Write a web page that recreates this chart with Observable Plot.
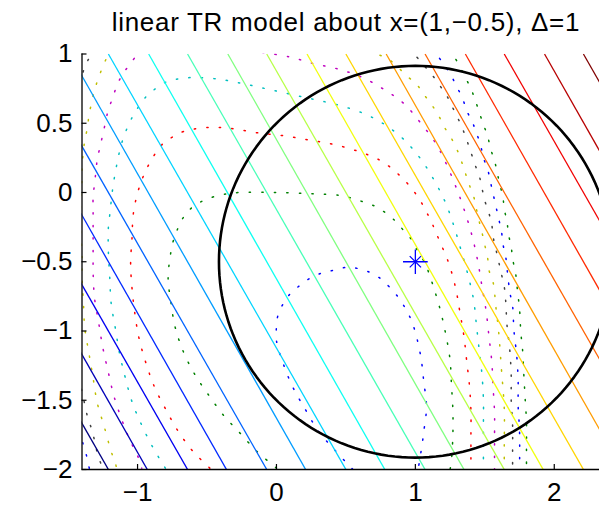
<!DOCTYPE html>
<html><head><meta charset="utf-8">
<script src="https://cdn.jsdelivr.net/npm/d3@7"></script>
<script src="https://cdn.jsdelivr.net/npm/@observablehq/plot@0.6"></script>
<style>
body{margin:0;background:#fff;}
#chart{width:599px;height:507px;overflow:hidden;}
#chart svg{overflow:hidden;}
</style>
</head><body><div id="chart"></div>
<script>
const titleText = "linear TR model about x=(1,\u22120.5), \u0394=1";
const xTicks = [-1, 0, 1, 2];
const yTicks = [-2, -1.5, -1, -0.5, 0, 0.5, 1];
const xLim = [-1.4, 2.4];
const yLim = [-2, 1];

// linear model contour lines: level index, x where the line meets y=1 and y=-2
const lineLevel   = [-6, -5, -4, -3, -2, -1, 0, 1, 2, 3, 4, 5, 6, 7, 8, 9, 10, 11, 12];
const lineTopX    = [-2.92, -2.63, -2.35, -2.06, -1.78, -1.49, -1.21, -0.92, -0.64, -0.35, -0.07, 0.22, 0.50, 0.79, 1.07, 1.36, 1.64, 1.93, 2.21];
const lineBottomX = [-1.21, -0.93, -0.64, -0.36, -0.07, 0.21, 0.50, 0.78, 1.07, 1.35, 1.64, 1.92, 2.21, 2.49, 2.78, 3.06, 3.35, 3.63, 3.92];

// trust region
const center = [1, -0.5];
const radius = 1.414;

// dotted contours of the true function
const curveBlue1 = [[0.55,-2.00],[0.42,-1.86],[0.30,-1.72],[0.21,-1.57],[0.12,-1.41],[0.05,-1.24],[0.00,-1.07],[0.00,-0.97],[0.01,-0.89],[0.05,-0.80],[0.10,-0.73],[0.17,-0.67],[0.24,-0.62],[0.33,-0.58],[0.42,-0.56],[0.51,-0.54],[0.59,-0.55],[0.68,-0.58],[0.76,-0.63],[0.82,-0.69],[0.88,-0.76],[0.93,-0.84],[0.97,-0.92],[1.00,-1.01],[1.04,-1.19],[1.06,-1.36],[1.08,-1.55],[1.06,-1.73],[1.05,-1.81],[1.02,-2.00]];
const curveGreen1 = [[0.00,-1.99],[-0.14,-1.87],[-0.26,-1.74],[-0.38,-1.61],[-0.49,-1.46],[-0.59,-1.31],[-0.67,-1.15],[-0.73,-0.97],[-0.76,-0.79],[-0.78,-0.62],[-0.76,-0.43],[-0.74,-0.34],[-0.71,-0.26],[-0.67,-0.18],[-0.61,-0.11],[-0.53,-0.06],[-0.45,-0.03],[-0.36,-0.01],[-0.27,0.00],[0.00,0.00],[0.27,-0.01],[0.45,-0.02],[0.54,-0.04],[0.63,-0.07],[0.71,-0.10],[0.79,-0.15],[0.86,-0.21],[0.92,-0.28],[0.98,-0.35],[1.02,-0.43],[1.07,-0.51],[1.10,-0.59],[1.13,-0.68],[1.18,-0.85],[1.22,-1.03],[1.25,-1.21],[1.26,-1.39],[1.27,-1.57],[1.27,-1.75],[1.26,-1.93],[1.25,-2.00]];
const curveRed1 = [[-0.48,-1.99],[-0.60,-1.87],[-0.71,-1.72],[-0.80,-1.56],[-0.88,-1.40],[-0.94,-1.23],[-0.99,-1.05],[-1.02,-0.87],[-1.04,-0.69],[-1.05,-0.51],[-1.04,-0.33],[-1.03,-0.15],[-0.99,0.03],[-0.92,0.20],[-0.82,0.35],[-0.75,0.40],[-0.67,0.44],[-0.49,0.47],[-0.31,0.46],[-0.13,0.43],[0.05,0.41],[0.23,0.38],[0.40,0.35],[0.58,0.30],[0.75,0.23],[0.89,0.12],[1.01,-0.02],[1.10,-0.18],[1.17,-0.34],[1.24,-0.51],[1.29,-0.69],[1.32,-0.86],[1.35,-1.04],[1.37,-1.22],[1.39,-1.40],[1.40,-1.58],[1.40,-1.77],[1.40,-1.95],[1.40,-2.00]];
const curveCyan1 = [[-0.80,-1.99],[-0.89,-1.84],[-0.97,-1.68],[-1.04,-1.51],[-1.09,-1.33],[-1.13,-1.16],[-1.16,-0.98],[-1.19,-0.80],[-1.20,-0.62],[-1.21,-0.43],[-1.21,-0.25],[-1.20,-0.16],[-1.18,0.02],[-1.15,0.20],[-1.11,0.37],[-1.04,0.54],[-0.94,0.69],[-0.87,0.75],[-0.79,0.80],[-0.71,0.82],[-0.61,0.83],[-0.43,0.82],[-0.26,0.79],[-0.08,0.75],[0.10,0.71],[0.28,0.67],[0.45,0.63],[0.63,0.57],[0.78,0.49],[0.92,0.38],[1.04,0.24],[1.14,0.08],[1.22,-0.08],[1.28,-0.25],[1.33,-0.42],[1.38,-0.60],[1.42,-0.78],[1.44,-0.96],[1.46,-1.14],[1.48,-1.32],[1.49,-1.50],[1.49,-1.68],[1.49,-1.86],[1.49,-2.00]];
const curveMagenta1Left = [[-0.97,1.04],[-1.00,1.00],[-1.06,0.92],[-1.11,0.85],[-1.15,0.77],[-1.18,0.68],[-1.21,0.60],[-1.23,0.51],[-1.25,0.42],[-1.27,0.33],[-1.29,0.24],[-1.30,0.15],[-1.31,0.06],[-1.32,-0.03],[-1.32,-0.12],[-1.32,-0.30],[-1.32,-0.48],[-1.32,-0.57],[-1.31,-0.76],[-1.28,-0.94],[-1.25,-1.12],[-1.21,-1.30],[-1.17,-1.47],[-1.11,-1.65],[-1.08,-1.73],[-1.04,-1.82],[-1.00,-1.90],[-0.97,-1.99]];
const curveMagenta1Right = [[-0.10,1.01],[0.09,0.98],[0.27,0.93],[0.45,0.89],[0.62,0.83],[0.78,0.74],[0.92,0.64],[1.04,0.50],[1.15,0.35],[1.23,0.19],[1.30,0.02],[1.36,-0.15],[1.41,-0.32],[1.45,-0.50],[1.48,-0.68],[1.51,-0.86],[1.53,-1.04],[1.55,-1.22],[1.56,-1.41],[1.57,-1.59],[1.57,-1.77],[1.57,-2.00]];
const curveYellow1Left = [[-1.19,1.04],[-1.21,1.00],[-1.25,0.91],[-1.28,0.83],[-1.31,0.74],[-1.33,0.65],[-1.35,0.56],[-1.36,0.47],[-1.38,0.38],[-1.39,0.29],[-1.40,0.20],[-1.40,0.11],[-1.41,-0.09],[-1.41,-0.27],[-1.40,-0.45],[-1.40,-0.61],[-1.39,-0.79],[-1.38,-0.98],[-1.35,-1.16],[-1.32,-1.34],[-1.29,-1.52],[-1.24,-1.69],[-1.19,-1.87],[-1.16,-1.95],[-1.15,-2.00]];
const curveYellow1Right = [[0.66,1.02],[0.81,0.96],[0.94,0.84],[1.01,0.78],[1.06,0.71],[1.12,0.63],[1.17,0.55],[1.21,0.47],[1.26,0.39],[1.30,0.31],[1.33,0.23],[1.36,0.14],[1.39,0.05],[1.42,-0.03],[1.44,-0.12],[1.46,-0.21],[1.48,-0.29],[1.50,-0.38],[1.52,-0.47],[1.53,-0.56],[1.56,-0.65],[1.58,-0.83],[1.60,-1.01],[1.62,-1.28],[1.64,-1.56],[1.64,-1.83],[1.64,-2.00]];
const curveBlack1TopLeft = [[-1.31,1.04],[-1.33,1.00],[-1.36,0.95],[-1.38,0.91],[-1.40,0.84],[-1.42,0.78]];
const curveBlack1BottomLeft = [[-1.42,-1.33],[-1.40,-1.44],[-1.38,-1.53],[-1.36,-1.62],[-1.33,-1.71],[-1.31,-1.79],[-1.29,-1.88],[-1.26,-1.97],[-1.25,-2.00]];
const curveBlack1Right = [[0.95,1.04],[0.99,1.00],[1.06,0.92],[1.12,0.85],[1.17,0.78],[1.22,0.71],[1.26,0.63],[1.30,0.55],[1.34,0.46],[1.37,0.38],[1.40,0.29],[1.43,0.20],[1.46,0.12],[1.48,0.03],[1.50,-0.06],[1.53,-0.15],[1.55,-0.23],[1.56,-0.32],[1.58,-0.41],[1.60,-0.50],[1.62,-0.59],[1.64,-0.68],[1.65,-0.78],[1.66,-0.96],[1.68,-1.14],[1.69,-1.32],[1.69,-1.50],[1.70,-1.68],[1.70,-1.86],[1.70,-2.00]];
const curveBlue2Left = [[-1.42,-1.72],[-1.40,-1.79],[-1.37,-1.89],[-1.35,-1.98],[-1.345,-2.00]];
const curveBlue2Right = [[1.12,1.04],[1.15,1.00],[1.21,0.92],[1.26,0.84],[1.30,0.76],[1.34,0.68],[1.37,0.59],[1.41,0.51],[1.44,0.43],[1.47,0.34],[1.49,0.25],[1.52,0.17],[1.54,0.08],[1.56,-0.01],[1.58,-0.10],[1.60,-0.19],[1.62,-0.28],[1.63,-0.37],[1.65,-0.46],[1.66,-0.55],[1.67,-0.64],[1.68,-0.72],[1.70,-0.82],[1.71,-1.00],[1.73,-1.18],[1.74,-1.36],[1.74,-1.54],[1.75,-1.72],[1.75,-2.00]];
const curveGreen2Right = [[1.25,1.04],[1.27,1.00],[1.32,0.91],[1.36,0.83],[1.40,0.75],[1.43,0.67],[1.46,0.58],[1.49,0.49],[1.52,0.41],[1.54,0.32],[1.57,0.23],[1.59,0.14],[1.61,0.05],[1.63,-0.03],[1.64,-0.12],[1.66,-0.21],[1.67,-0.30],[1.69,-0.39],[1.70,-0.48],[1.72,-0.57],[1.73,-0.66],[1.74,-0.75],[1.75,-0.84],[1.76,-1.02],[1.77,-1.11],[1.78,-1.30],[1.79,-1.48],[1.80,-1.66],[1.80,-1.84],[1.80,-2.00]];

const colorOrder = {b: "#0000ff", g: "#008000", r: "#ff0000", c: "#00bfbf", m: "#bf00bf", y: "#bfbf00", k: "#404040"};
const dottedSegments = [
  ["b", curveBlue1], ["g", curveGreen1], ["r", curveRed1], ["c", curveCyan1],
  ["m", curveMagenta1Left], ["m", curveMagenta1Right],
  ["y", curveYellow1Left], ["y", curveYellow1Right],
  ["k", curveBlack1TopLeft], ["k", curveBlack1BottomLeft], ["k", curveBlack1Right],
  ["b", curveBlue2Left], ["b", curveBlue2Right], ["g", curveGreen2Right]
];

// jet colormap (MATLAB)
const jet = t => {
  const c = v => Math.round(255 * Math.max(0, Math.min(1, v)));
  return `rgb(${c(1.5 - Math.abs(4 * t - 3))},${c(1.5 - Math.abs(4 * t - 2))},${c(1.5 - Math.abs(4 * t - 1))})`;
};

const lineRows = lineLevel.map((lev, i) => ({level: lev, x1: lineTopX[i], y1: yLim[1], x2: lineBottomX[i], y2: yLim[0]}));
const circleRows = d3.range(0, 361, 2).map(a => ({
  x: center[0] + radius * Math.cos(a * Math.PI / 180),
  y: center[1] + radius * Math.sin(a * Math.PI / 180)
}));

const W = 599, H = 507;
const mL = 81.5, mT = 53.5, mB = 38;
const xScaleRange = [mL, mL + (xLim[1] - xLim[0]) * 138.9];
const tick = 5;
const fmt = d => String(d).replace("-", "\u2212");

const dottedMarks = dottedSegments.map(([col, pts]) =>
  Plot.line(pts, {x: d => d[0], y: d => d[1], stroke: colorOrder[col], strokeWidth: 1.5,
    strokeDasharray: "1.3,11.2", curve: "catmull-rom", clip: true})
);

const chart = Plot.plot({
  width: W, height: H,
  marginLeft: mL, marginRight: 0, marginTop: mT, marginBottom: mB,
  style: {fontFamily: "'Liberation Sans', Arial, Helvetica, sans-serif", fontSize: "26px", color: "black", background: "white"},
  x: {domain: xLim, range: xScaleRange},
  y: {domain: yLim},
  color: {type: "linear", domain: [d3.min(lineLevel), d3.max(lineLevel)], interpolate: jet},
  marks: [
    ...dottedMarks,
    Plot.link(lineRows, {x1: "x1", y1: "y1", x2: "x2", y2: "y2", stroke: "level", strokeWidth: 1.3, clip: true}),
    Plot.line(circleRows, {x: "x", y: "y", stroke: "black", strokeWidth: 2.6, clip: true}),
    Plot.dot([center], {x: d => d[0], y: d => d[1], symbol: "plus", r: 8, stroke: "#0000ff", strokeWidth: 1.3}),
    Plot.dot([center], {x: d => d[0], y: d => d[1], symbol: "times", r: 5.2, stroke: "#0000ff", strokeWidth: 1.3}),
    Plot.ruleY([yLim[0]], {stroke: "black", strokeWidth: 1.3}),
    Plot.ruleX([xLim[0]], {stroke: "#222", strokeWidth: 1.5}),
    Plot.tickX(xTicks, {x: d => d, stroke: "black", strokeWidth: 1.2, insetTop: (H - mT - mB) - tick}),
    Plot.tickY(yTicks, {y: d => d, stroke: "black", strokeWidth: 1.2, insetRight: (W - mL) - tick}),
    Plot.axisX({ticks: xTicks, tickFormat: fmt, tickSize: 0, tickPadding: 13, label: null, fontSize: 26}),
    Plot.axisY({ticks: yTicks, tickFormat: fmt, tickSize: 0, tickPadding: 9.5, label: null, fontSize: 26}),
    Plot.text([titleText], {x: (xLim[0] + xLim[1]) / 2, y: yLim[1], dy: -31, text: d => d, fontSize: 26, lineAnchor: "middle", textAnchor: "middle"})
  ]
});
// slightly wider letter spacing of the title, as in the original rendering
chart.querySelectorAll("text").forEach(t => { if (t.textContent === titleText) t.setAttribute("letter-spacing", "0.7"); });
document.getElementById("chart").appendChild(chart);
</script>
</body></html>
